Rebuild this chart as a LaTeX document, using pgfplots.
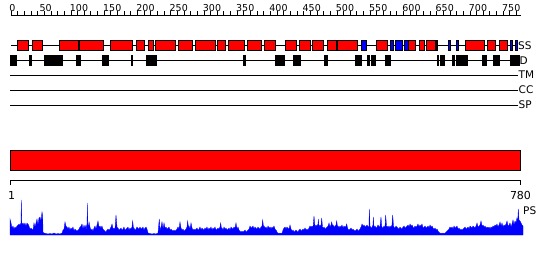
\documentclass[border=0pt]{standalone}
\usepackage{pgfplots}
\pgfplotsset{compat=1.18}
\usepackage{pgfplotstable}
\usepackage{fontspec}
\setmainfont{DejaVu Sans}

% residue ruler ticks (every 10 residues), second column: tick height position
\pgfplotstableread[row sep=\\]{r y\\0 13.2\\10 13.2\\20 13.2\\30 13.2\\40 13.2\\50 13.2\\60 13.2\\70 13.2\\80 13.2\\90 13.2\\100 13.2\\110 13.2\\120 13.2\\130 13.2\\140 13.2\\150 13.2\\160 13.2\\170 13.2\\180 13.2\\190 13.2\\200 13.2\\210 13.2\\220 13.2\\230 13.2\\240 13.2\\250 13.2\\260 13.2\\270 13.2\\280 13.2\\290 13.2\\300 13.2\\310 13.2\\320 13.2\\330 13.2\\340 13.2\\350 13.2\\360 13.2\\370 13.2\\380 13.2\\390 13.2\\400 13.2\\410 13.2\\420 13.2\\430 13.2\\440 13.2\\450 13.2\\460 13.2\\470 13.2\\480 13.2\\490 13.2\\500 13.2\\510 13.2\\520 13.2\\530 13.2\\540 13.2\\550 13.2\\560 13.2\\570 13.2\\580 13.2\\590 13.2\\600 13.2\\610 13.2\\620 13.2\\630 13.2\\640 13.2\\650 13.2\\660 13.2\\670 13.2\\680 13.2\\690 13.2\\700 13.2\\710 13.2\\720 13.2\\730 13.2\\740 13.2\\750 13.2\\760 13.2\\}\ticktab
\pgfplotstableread[row sep=\\]{r y lab\\0 11 0\\50 11 50\\100 11 100\\150 11 150\\200 11 200\\250 11 250\\300 11 300\\350 11 350\\400 11 400\\450 11 450\\500 11 500\\550 11 550\\600 11 600\\650 11 650\\700 11 700\\750 11 750\\}\labtab

% PS profile (x in picture units, h = height)
\pgfplotstableread[row sep=\\]{x h\\
10 0\\ 10 16\\ 11 12\\ 12 7\\ 13 9\\ 14 6\\ 15 8\\ 16 7\\ 17 9\\ 18 10\\ 19 11\\ 20 10\\ 21 12\\ 21.3 35\\ 21.8 12\\ 22.5 10\\ 23 12\\ 24 10\\ 25 12\\ 26 9\\ 27 12\\ 28 11\\ 29 9\\ 30 6\\ 31 7\\ 32 6\\ 33 5\\ 34 12\\ 35 8\\ 36 12\\ 37 16\\ 38 10\\ 39 17\\ 40 18\\ 41 14\\ 42 23\\ 42.7 19\\ 43 3\\ 44 2\\ 46 1.5\\ 48 1\\ 50 1.5\\ 52 1\\ 54 2\\ 56 1\\ 58 1.5\\ 60 1\\ 62 2\\ 63 5\\ 64 6\\ 65 13\\ 66 9\\ 67 8\\ 68 6\\ 69 8\\ 70 5\\ 71 7\\ 72 6\\ 73 8\\ 74 4\\ 75 6\\ 76 5\\ 77 4\\ 78 5\\ 79 6\\ 80 8\\ 81 9\\ 82 11\\ 83 6\\ 84 10\\ 85 7\\ 86 10\\ 87 5\\ 87.3 32\\ 87.8 10\\ 88.5 9\\ 89 13\\ 90 8\\ 91 5\\ 92 6\\ 93 4\\ 94 7\\ 95 9\\ 96 6\\ 97 10\\ 98 14\\ 99 8\\ 100 9\\ 101 7\\ 102 9\\ 103 6\\ 104 5\\ 105 4\\ 106 3\\ 107 5\\ 108 6\\ 109 5\\ 110 6\\ 111 8\\ 112 11\\ 113 6\\ 114 7\\ 115 6\\ 116 20\\ 117 8\\ 118 7\\ 119 5\\ 120 6\\ 121 7\\ 122 5\\ 123 6\\ 124 8\\ 125 5\\ 126 6\\ 127 7\\ 128 8\\ 129 5\\ 130 7\\ 131 6\\ 132 8\\ 132.7 14\\ 133.5 6\\ 134 7\\ 135 5\\ 136 6\\ 137 8\\ 138 7\\ 139 6\\ 140 8\\ 141 6\\ 142 7\\ 143 8\\ 144 5\\ 145 7\\ 146 8\\ 147 6\\ 148 2\\ 150 1.5\\ 152 1\\ 154 1.5\\ 156 1\\ 158 2\\ 159.3 16\\ 160 5\\ 161 8\\ 162 13\\ 163 6\\ 164 12\\ 165 7\\ 166 8\\ 167 6\\ 168 7\\ 169 8\\ 170 5\\ 171 6\\ 172 5\\ 173 4\\ 174 5\\ 175 4\\ 176 5\\ 177 6\\ 178 8\\ 179 6\\ 180 13\\ 181 7\\ 182 5\\ 183 6\\ 184 4\\ 185 5\\ 186 6\\ 187 8\\ 187.7 14\\ 188.5 7\\ 189 9\\ 190 6\\ 191 12\\ 192 7\\ 193 5\\ 194 6\\ 195 5\\ 196 6\\ 197 7\\ 198 5\\ 199 6\\ 200 8\\ 201 5\\ 202 7\\ 203 6\\ 204 5\\ 205 7\\ 206 6\\ 207 8\\ 208 5\\ 209 7\\ 210 6\\ 211 8\\ 212 5\\ 213 7\\ 214 6\\ 215 8\\ 216 5\\ 217 6\\ 218 7\\ 219 6\\ 220 8\\ 220.7 12\\ 221.5 6\\ 222 7\\ 223 5\\ 224 8\\ 225 6\\ 226 7\\ 227 5\\ 228 6\\ 229 7\\ 230 5\\ 231 8\\ 232 7\\ 233 6\\ 234 8\\ 235 7\\ 236 12\\ 237 6\\ 238 8\\ 239 5\\ 240 4\\ 241 3\\ 242 4\\ 243 3\\ 244 4\\ 245 5\\ 246 3\\ 247 4\\ 248 5\\ 249 6\\ 250 9\\ 251 7\\ 252 8\\ 253 9\\ 254 6\\ 255 8\\ 256 7\\ 257 6\\ 258 8\\ 259 7\\ 260 6\\ 261 8\\ 262 9\\ 262.7 15\\ 263.5 8\\ 264 9\\ 265 7\\ 266 8\\ 267 6\\ 268 9\\ 269 7\\ 270 8\\ 271 6\\ 272 8\\ 273 7\\ 274 9\\ 275 6\\ 276 5\\ 277 3\\ 278 2\\ 279 1.5\\ 280 2\\ 281 1.5\\ 282 2\\ 283 5\\ 284 7\\ 285 8\\ 286 6\\ 287 8\\ 288 7\\ 289 6\\ 290 10\\ 291 6\\ 292 4\\ 293 5\\ 294 3\\ 295 4\\ 296 5\\ 297 4\\ 298 3\\ 299 5\\ 300 6\\ 301 4\\ 302 5\\ 303 6\\ 304 5\\ 305 7\\ 306 5\\ 307 6\\ 308 5\\ 309 7\\ 310 9\\ 311 8\\ 312 9\\ 313 7\\ 314 19\\ 315 8\\ 316 10\\ 317 9\\ 318 11\\ 318.3 16\\ 319 8\\ 320 10\\ 321 9\\ 321.7 17\\ 322.5 8\\ 323 7\\ 324 8\\ 325 6\\ 326 7\\ 327 8\\ 328 9\\ 329 12\\ 330 8\\ 331 10\\ 331.7 13\\ 332.5 9\\ 333 10\\ 334 8\\ 335 9\\ 336 10\\ 336.7 14\\ 337.5 8\\ 338 9\\ 339 7\\ 340 9\\ 341 8\\ 342 10\\ 343 7\\ 344 9\\ 345 8\\ 346 9\\ 346.7 11\\ 347.5 7\\ 348 6\\ 349 5\\ 350 6\\ 351 7\\ 352 5\\ 353 6\\ 354 5\\ 355 4\\ 356 5\\ 357 6\\ 358 4\\ 359 5\\ 360 6\\ 361 8\\ 362 11\\ 363 9\\ 364 10\\ 365 8\\ 366 9\\ 367 10\\ 368 8\\ 369 9\\ 369.3 26\\ 370 9\\ 371 7\\ 372 8\\ 373 10\\ 373.3 18\\ 374 8\\ 375 9\\ 376 7\\ 377 8\\ 378 10\\ 379 8\\ 380 9\\ 381 18\\ 381.7 9\\ 382 8\\ 383 7\\ 384 9\\ 385 8\\ 385.7 20\\ 386.5 9\\ 387 8\\ 388 9\\ 389 7\\ 390 9\\ 391 8\\ 392 10\\ 392.7 20\\ 393.5 9\\ 394 8\\ 395 7\\ 396 9\\ 397 8\\ 398 7\\ 399 6\\ 400 8\\ 401 7\\ 402 6\\ 403 8\\ 404 9\\ 405 7\\ 406 8\\ 407 9\\ 408 10\\ 409 8\\ 410 11\\ 411 9\\ 412 10\\ 413 8\\ 414 7\\ 415 9\\ 416 8\\ 417 9\\ 418 11\\ 419 8\\ 420 10\\ 421 9\\ 422 11\\ 423 7\\ 424 8\\ 425 9\\ 426 7\\ 427 8\\ 428 9\\ 429 7\\ 430 10\\ 431 8\\ 432 9\\ 433 7\\ 434 6\\ 435 7\\ 436 5\\ 437 6\\ 438 4\\ 439 3\\ 440 2\\ 441 1.5\\ 442 2\\ 443 1.5\\ 444 2\\ 445 1.5\\ 446 3\\ 447 4\\ 448 5\\ 449 6\\ 450 8\\ 451 7\\ 452 8\\ 453 6\\ 454 9\\ 455 7\\ 456 8\\ 457 9\\ 458 6\\ 459 7\\ 460 5\\ 461 6\\ 462 5\\ 463 6\\ 464 7\\ 465 8\\ 466 6\\ 467 7\\ 468 8\\ 469 6\\ 470 9\\ 471 8\\ 472 7\\ 473 9\\ 474 8\\ 475 7\\ 476 9\\ 477 12\\ 478 8\\ 479 9\\ 480 10\\ 481 14\\ 482 9\\ 483 10\\ 484 8\\ 485 9\\ 486 7\\ 487 8\\ 488 7\\ 489 8\\ 490 6\\ 491 8\\ 492 7\\ 493 9\\ 494 8\\ 495 10\\ 496 9\\ 497 11\\ 498 8\\ 499 10\\ 500 13\\ 501 9\\ 502 12\\ 503 8\\ 504 10\\ 505 9\\ 506 11\\ 507 14\\ 508 9\\ 509 10\\ 510 12\\ 511 8\\ 512 11\\ 513 15\\ 514 10\\ 515 14\\ 516 12\\ 517 17\\ 517.6 10\\ 518.3 26\\ 519 15\\ 520 14\\ 521 12\\ 522 10\\ 523 9\\ 523 0\\
}\psdata

\newcommand{\ssbox}[3]{\addplot[fill=#3, draw=black, line width=0.8pt] coordinates {(#1,40)(#2,40)(#2,50.5)(#1,50.5)} -- cycle;}
\newcommand{\dbox}[2]{\addplot[fill=black, draw=black, line width=0.5pt] coordinates {(#1,55)(#2,55)(#2,65.5)(#1,65.5)} -- cycle;}

\begin{document}
\begin{tikzpicture}
\begin{axis}[width=550pt, height=260pt, scale only axis,
  xmin=0, xmax=550, ymin=0, ymax=260, y dir=reverse,
  hide axis, clip=false]
\addplot[draw=none] coordinates {(0,0) (550,260)};

% top ruler
\addplot[black, line width=0.8pt] coordinates {(10.5,15) (521,15)};
\addplot[only marks, mark=|, mark size=1.8pt, mark options={line width=0.7pt}, black]
  table[x expr=11+\thisrow{r}*0.665, y=y] {\ticktab};
\addplot[only marks, mark=none, nodes near coords, point meta=explicit symbolic,
  nodes near coords style={anchor=base, inner sep=0pt, fill=white, font=\fontsize{9.5}{10}\selectfont}]
  table[x expr=12.5+\thisrow{r}*0.665, y=y, meta=lab] {\labtab};

% SS track
\addplot[black, line width=0.9pt] coordinates {(11,45.5) (517.5,45.5)};
\ssbox{17.3}{28.3}{red}
\ssbox{32.7}{42.3}{red}
\ssbox{59.3}{78.7}{red}
\ssbox{79.3}{103.3}{red}
\ssbox{110.3}{132.3}{red}
\ssbox{136.3}{144.3}{red}
\ssbox{148.7}{153.3}{red}
\ssbox{155.3}{175.7}{red}
\ssbox{178.7}{192.3}{red}
\ssbox{195.7}{215.7}{red}
\ssbox{217.3}{225.3}{red}
\ssbox{228.7}{244.3}{red}
\ssbox{247.7}{261.3}{red}
\ssbox{264.3}{275}{red}
\ssbox{285.7}{296}{red}
\ssbox{299.5}{310}{red}
\ssbox{312.5}{323}{red}
\ssbox{327.5}{336.7}{red}
\ssbox{337.3}{357.3}{red}
\ssbox{376.7}{387.3}{red}
\ssbox{408.3}{415}{red}
\ssbox{419}{424}{red}
\ssbox{426.7}{435.7}{red}
\ssbox{465}{484.3}{red}
\ssbox{487.7}{495}{red}
\ssbox{499.3}{507.3}{red}
\ssbox{361.5}{366.5}{blue}
\ssbox{390.5}{393.3}{blue}
\ssbox{395.5}{402}{blue}
\ssbox{404.5}{408}{blue}
\ssbox{436}{437.5}{blue}
\ssbox{448.3}{450.3}{blue}
\ssbox{456}{458.3}{blue}
\ssbox{510.3}{512.3}{blue}
\ssbox{515.7}{517.5}{blue}

% D track
\addplot[black, line width=0.9pt] coordinates {(10,60.3) (519,60.3)};
\dbox{10}{16.7}
\dbox{29.3}{31.7}
\dbox{44.3}{62}
\dbox{76.3}{80.7}
\dbox{102}{108.7}
\dbox{131.3}{132.7}
\dbox{146}{156.7}
\dbox{243.5}{245}
\dbox{275}{284}
\dbox{293.3}{300}
\dbox{324}{327.7}
\dbox{355}{361.7}
\dbox{367}{369.3}
\dbox{371.7}{375}
\dbox{385}{390}
\dbox{437}{438.3}
\dbox{440}{444}
\dbox{452.7}{454}
\dbox{456.7}{467.7}
\dbox{482}{486.3}
\dbox{493.7}{499}
\dbox{510}{516.7}
\dbox{517.5}{519}

% TM, CC, SP tracks
\addplot[black, line width=0.9pt] coordinates {(10,75) (518,75)};
\addplot[black, line width=0.9pt] coordinates {(10,90) (518,90)};
\addplot[black, line width=0.9pt] coordinates {(10,105) (518,105)};

\node[anchor=west, inner sep=0.5pt, font=\fontsize{10.5}{12}\selectfont] at (axis cs:517.5,45.5) {SS};
\node[anchor=west, inner sep=0.5pt, font=\fontsize{10.5}{12}\selectfont] at (axis cs:519,60.3) {D};
\node[anchor=west, inner sep=0.5pt, font=\fontsize{10.5}{12}\selectfont] at (axis cs:518,75) {TM};
\node[anchor=west, inner sep=0.5pt, font=\fontsize{10.5}{12}\selectfont] at (axis cs:518,90) {CC};
\node[anchor=west, inner sep=0.5pt, font=\fontsize{10.5}{12}\selectfont] at (axis cs:518,105) {SP};

% domain bar
\addplot[fill=red, draw=black, line width=0.9pt] coordinates {(10.3,150) (520.7,150) (520.7,170.3) (10.3,170.3)} -- cycle;

% bottom ruler
\addplot[black, line width=0.9pt] coordinates {(10.3,185) (10.3,180.3) (520.7,180.3) (520.7,185)};
\node[font=\fontsize{11}{12}\selectfont, inner sep=0pt] at (axis cs:11.5,195) {1};
\node[font=\fontsize{11}{12}\selectfont, inner sep=0pt] at (axis cs:520.5,195) {780};

% PS profile
\addplot[fill=blue, draw=blue, line width=0.3pt] table[x=x, y expr=235-\thisrow{h}] {\psdata} -- cycle;
\node[anchor=west, inner sep=0.5pt, font=\fontsize{10.5}{12}\selectfont] at (axis cs:522.5,211) {PS};
\end{axis}
\end{tikzpicture}
\end{document}
